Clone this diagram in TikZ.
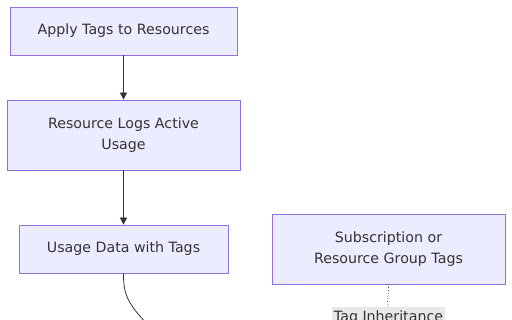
\documentclass[tikz,border=0pt]{standalone}
\usepackage{fontspec}
\setmainfont{DejaVu Sans}
\usetikzlibrary{arrows.meta}
\definecolor{boxfill}{HTML}{ECECFF}
\definecolor{boxline}{HTML}{9370DB}
\definecolor{ink}{HTML}{333333}
\definecolor{lblbg}{HTML}{E8E8E8}
\begin{document}
\begin{tikzpicture}[x=1pt,y=-1pt,
  flowbox/.style={draw=boxline,fill=boxfill,line width=0.8pt,text=ink,
    font=\fontsize{14.2}{21}\selectfont,align=center,inner sep=0pt},
  flowarrow/.style={draw=ink,line width=0.8pt,-{Triangle[length=7pt,width=7pt]}},
  flowline/.style={draw=ink,line width=0.8pt},
  edgelabel/.style={fill=lblbg,text=ink,font=\fontsize{14.2}{17}\selectfont,inner sep=2pt,minimum width=109pt,minimum height=22pt}]
\useasboundingbox (0,0) rectangle (512,320);
\clip (0,0) rectangle (512,320);
\fill[white] (0,0) rectangle (512,320);
\node[flowbox,minimum width=227pt,minimum height=48pt] (apply) at (123.5,31) {Apply Tags to Resources};
\node[flowbox,minimum width=233pt,minimum height=70pt] (logs) at (123.5,135) {Resource Logs Active\\Usage};
\node[flowbox,minimum width=209pt,minimum height=48pt] (usage) at (123.5,249) {Usage Data with Tags};
\node[flowbox,minimum width=233pt,minimum height=70pt] (sub) at (388.5,249) {Subscription or\\Resource Group Tags};
\node[edgelabel] (inh) at (388.5,318) {Tag Inheritance};
\coordinate (below) at (185,360);
\draw[flowarrow] (apply) -- (logs);
\draw[flowarrow] (logs) -- (usage);
\draw[flowline] (usage.south) .. controls (123.5,300) and (128,308) .. (below);
\draw[flowline,dotted] (sub.south) .. controls (389,296) and (386,300) .. (inh.north);
\end{tikzpicture}
\end{document}
